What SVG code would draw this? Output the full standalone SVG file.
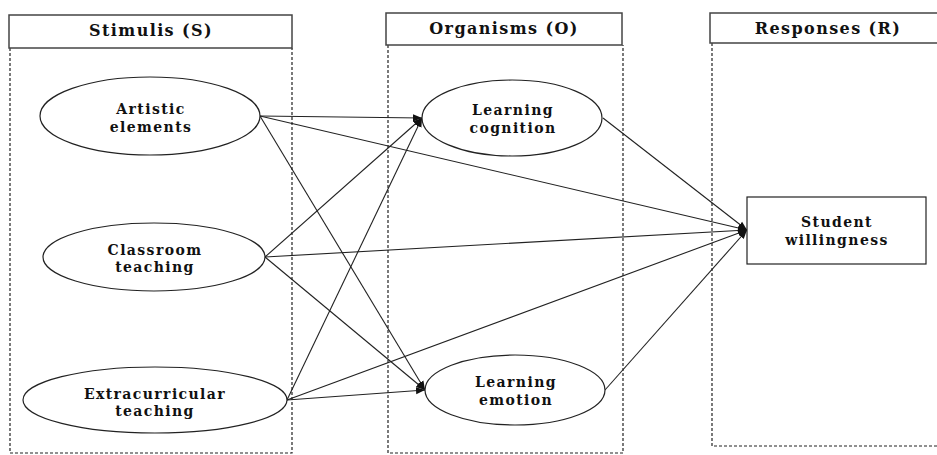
<svg xmlns="http://www.w3.org/2000/svg" width="937" height="455" viewBox="0 0 937 455">
<style>
.hdr{fill:#fff;stroke:#444;stroke-width:1.5}
.col{fill:none;stroke:#222;stroke-width:1.2;stroke-dasharray:3 2}
.nd{fill:#fff;stroke:#222;stroke-width:1.2}
.t{font-family:"DejaVu Serif",serif;font-weight:bold;font-size:14px;letter-spacing:1.4px;fill:#111;text-anchor:middle}
.h{font-family:"DejaVu Serif",serif;font-weight:bold;font-size:16px;letter-spacing:1.4px;fill:#111;text-anchor:middle}
.c{stroke:#222;stroke-width:1.1;fill:none;marker-end:url(#ah)}
</style>
<defs>
<marker id="ah" viewBox="0 0 10 10" refX="10" refY="5" markerWidth="9" markerHeight="9" markerUnits="userSpaceOnUse" orient="auto">
<path d="M0,1 L10,5 L0,9 z" fill="#111"/>
</marker>
</defs>
<rect width="937" height="455" fill="#fff"/>
<g id="col-s">
<path class="col" d="M10,48 V453 H292 V48"/>
<rect class="hdr" x="9" y="15" width="283" height="33"/>
<text class="h" x="151" y="36">Stimulis (S)</text>
</g>
<g id="col-o">
<path class="col" d="M388,45 V453 H623 V45"/>
<rect class="hdr" x="386" y="13" width="236" height="32"/>
<text class="h" x="504" y="34">Organisms (O)</text>
</g>
<g id="col-r">
<path class="col" d="M712,43 V446 H937"/>
<path class="hdr" d="M937,13 H710 V43 H937"/>
<text class="h" x="828" y="34">Responses (R)</text>
</g>
<g id="connectors">
<line class="c" x1="260" y1="116" x2="422" y2="118"/>
<line class="c" x1="265" y1="257" x2="422" y2="118"/>
<line class="c" x1="287" y1="400" x2="422" y2="118"/>
<line class="c" x1="260" y1="116" x2="425" y2="390"/>
<line class="c" x1="265" y1="257" x2="425" y2="390"/>
<line class="c" x1="287" y1="400" x2="425" y2="390"/>
<line class="c" x1="260" y1="116" x2="747" y2="230"/>
<line class="c" x1="265" y1="257" x2="747" y2="230"/>
<line class="c" x1="287" y1="400" x2="747" y2="230"/>
<line class="c" x1="603" y1="118" x2="747" y2="230"/>
<line class="c" x1="605" y1="390" x2="747" y2="230"/>
</g>
<g id="artistic">
<ellipse class="nd" cx="150" cy="116" rx="110" ry="39"/>
<text class="t" x="151" y="114">Artistic</text>
<text class="t" x="151" y="132">elements</text>
</g>
<g id="classroom">
<ellipse class="nd" cx="154" cy="257" rx="111" ry="34"/>
<text class="t" x="155" y="255">Classroom</text>
<text class="t" x="155" y="272">teaching</text>
</g>
<g id="extracurricular">
<ellipse class="nd" cx="155" cy="400" rx="132" ry="33"/>
<text class="t" x="155" y="399">Extracurricular</text>
<text class="t" x="155" y="416">teaching</text>
</g>
<g id="cognition">
<ellipse class="nd" cx="512" cy="118" rx="90" ry="38"/>
<text class="t" x="513" y="115">Learning</text>
<text class="t" x="513" y="133">cognition</text>
</g>
<g id="emotion">
<ellipse class="nd" cx="515" cy="390" rx="90" ry="35"/>
<text class="t" x="516" y="387">Learning</text>
<text class="t" x="516" y="405">emotion</text>
</g>
<g id="willingness">
<rect class="nd" x="747" y="197" width="179" height="67"/>
<text class="t" x="837" y="227">Student</text>
<text class="t" x="837" y="245">willingness</text>
</g>
</svg>
